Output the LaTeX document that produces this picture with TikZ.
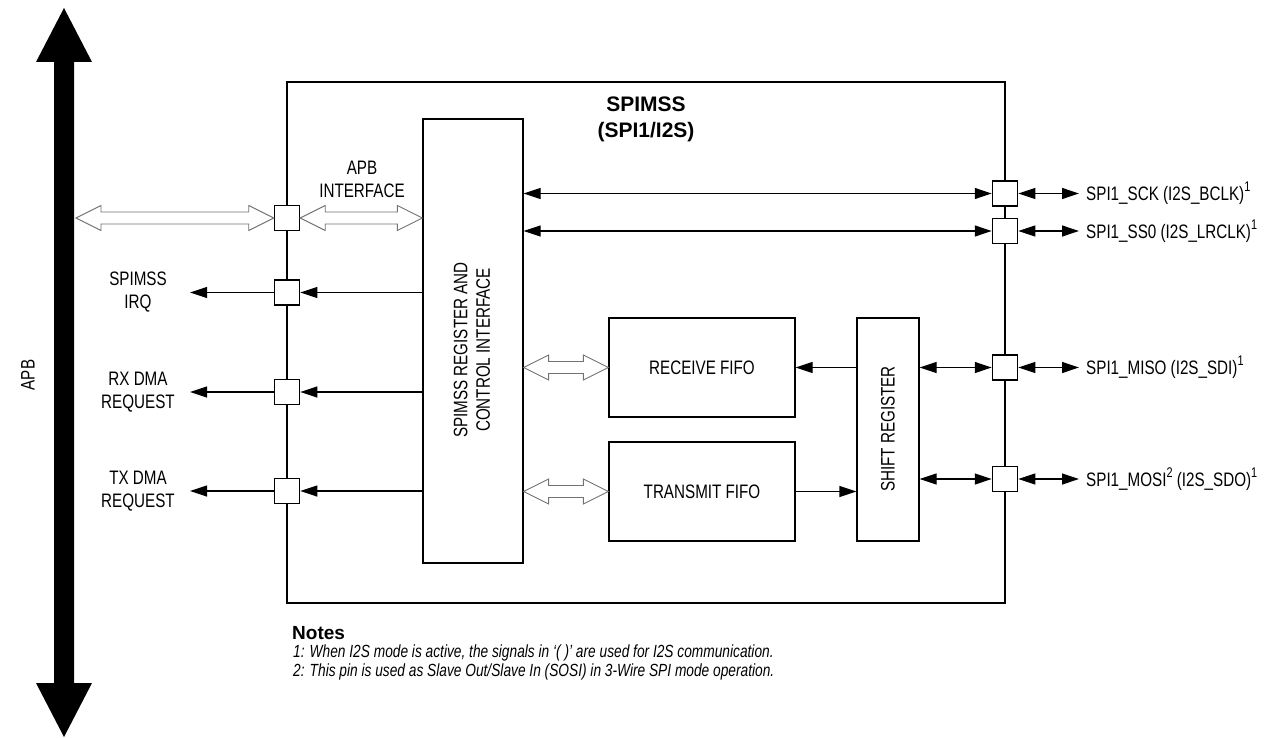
\documentclass[tikz,border=0pt]{standalone}
\usepackage{fontspec}
\setmainfont{Liberation Sans}[FakeStretch=0.78]
\newfontfamily\widefont{Liberation Sans}
\usetikzlibrary{arrows.meta,calc}

\newcommand{\supr}[1]{\raisebox{0.45em}{\fontsize{14}{14}\selectfont #1}}

\tikzset{
 lbl/.style={font=\fontsize{19.5}{22.5}\selectfont, align=center, inner sep=0pt},
 blk/.style={draw, line width=1.2pt, inner sep=0pt, font=\fontsize{19.5}{22.5}\selectfont},
 port/.style={draw, line width=1.5pt, fill=white, minimum size=25pt, inner sep=0pt},
 sig/.style={line width=1.2pt, -{Triangle[length=17pt,width=11pt]}},
 dsig/.style={line width=1.2pt, {Triangle[length=17pt,width=11pt]}-{Triangle[length=17pt,width=11pt]}},
 hollow/.style={draw=black!55, line width=0.9pt, fill=white},
 note/.style={anchor=base west, inner sep=0pt, font=\itshape\fontsize{17.6}{17.6}\selectfont},
}

\newcommand{\hollowarrow}[2]{%
 \path[hollow] let \p1=(#1), \p2=(#2) in
 (\x1,\y1) -- (\x1+25pt,\y1+12.5pt) -- (\x1+25pt,\y1+6pt) -- (\x2-25pt,\y1+6pt) -- (\x2-25pt,\y1+12.5pt) -- (\x2,\y1) -- (\x2-25pt,\y1-12.5pt) -- (\x2-25pt,\y1-6pt) -- (\x1+25pt,\y1-6pt) -- (\x1+25pt,\y1-12.5pt) -- cycle;}

\begin{document}
\begin{tikzpicture}[x=1pt,y=-1pt]
\useasboundingbox (0,0) rectangle (1271,738);

% APB bus arrow
\fill (54,62) -- (36,62) -- (64,8) -- (92,62) -- (74,62) -- (74,683) -- (92,683) -- (64,737) -- (36,683) -- (54,683) -- cycle;
\node[lbl, rotate=90] (apb) at (28,375) {APB};
\coordinate (busR) at (76,218);

% outer block
\node[draw, line width=2.2pt, minimum width=718pt, minimum height=521pt, inner sep=0pt] (outer) at (646,342.5) {};
\node[font=\widefont\bfseries\fontsize{21}{26}\selectfont, align=center, inner sep=0pt] (title) at (646,119) {SPIMSS\\(SPI1/I2S)};

% inner blocks
\node[blk, minimum width=100pt, minimum height=444pt] (reg) at (473,341) {};
\node[lbl, rotate=90] (regtxt) at (472,350) {SPIMSS REGISTER AND\\CONTROL INTERFACE};
\node[blk, minimum width=186pt, minimum height=99pt] (rx) at (702,367.5) {RECEIVE FIFO};
\node[blk, minimum width=186pt, minimum height=99pt] (tx) at (702,491.5) {TRANSMIT FIFO};
\node[blk, minimum width=62pt, minimum height=223pt] (sr) at (888,429.5) {};
\node[lbl, rotate=90] (srtxt) at (888,429) {SHIFT REGISTER};

% ports
\node[port] (pa) at (287,218) {};
\node[port] (pi) at (287,292.5) {};
\node[port] (prx) at (287,392) {};
\node[port] (ptx) at (287,491) {};
\node[port] (psck) at (1005,193.5) {};
\node[port] (pss) at (1005,231) {};
\node[port] (pmiso) at (1005,367.5) {};
\node[port] (pmosi) at (1005,479) {};

% free ends
\coordinate (irqE) at (190,292.5);
\coordinate (rxE) at (190,392);
\coordinate (txE) at (190,491);
\coordinate (sckE) at (1079,193.5);
\coordinate (ssE) at (1079,231);
\coordinate (misoE) at (1079,367.5);
\coordinate (mosiE) at (1079,479);

% hollow bus arrows
\hollowarrow{busR}{pa.west}
\hollowarrow{pa.east}{reg.west |- pa}
\hollowarrow{reg.east |- rx}{rx.west}
\hollowarrow{reg.east |- tx}{tx.west}
\node[lbl] (apbif) at (362,179.5) {APB\\INTERFACE};

% left signals
\draw[sig] (reg.west |- pi) -- (pi.east);
\draw[sig] (reg.west |- prx) -- (prx.east);
\draw[sig] (reg.west |- ptx) -- (ptx.east);
\draw[sig] (pi.west) -- (irqE);
\draw[sig] (prx.west) -- (rxE);
\draw[sig] (ptx.west) -- (txE);
\node[lbl] (irqlbl) at (138,292) {SPIMSS\\IRQ};
\node[lbl] (rxlbl) at (138,392) {RX DMA\\REQUEST};
\node[lbl] (txlbl) at (138,491) {TX DMA\\REQUEST};

% right signals
\draw[dsig] (reg.east |- psck) -- (psck.west);
\draw[dsig] (reg.east |- pss) -- (pss.west);
\draw[sig] (sr.west |- rx) -- (rx.east);
\draw[sig] (tx.east) -- (sr.west |- tx);
\draw[dsig] (sr.east |- pmiso) -- (pmiso.west);
\draw[dsig] (sr.east |- pmosi) -- (pmosi.west);
\draw[dsig] (psck.east) -- (sckE);
\draw[dsig] (pss.east) -- (ssE);
\draw[dsig] (pmiso.east) -- (misoE);
\draw[dsig] (pmosi.east) -- (mosiE);
\node[lbl, anchor=base west] (scklbl) at (1086,200.5) {SPI1\_SCK (I2S\_BCLK)\supr{1}};
\node[lbl, anchor=base west] (sslbl) at (1086,238) {SPI1\_SS0 (I2S\_LRCLK)\supr{1}};
\node[lbl, anchor=base west] (misolbl) at (1086,374.5) {SPI1\_MISO (I2S\_SDI)\supr{1}};
\node[lbl, anchor=base west] (mosilbl) at (1086,486) {SPI1\_MOSI\supr{2} (I2S\_SDO)\supr{1}};

% notes
\node[anchor=base west, inner sep=0pt, font=\widefont\bfseries\fontsize{19}{19}\selectfont] (notes) at (292,639.5) {Notes};
\node[note] (n1) at (293,657) {1: When I2S mode is active, the signals in `( )' are used for I2S communication.};
\node[note] (n2) at (293,676) {2: This pin is used as Slave Out/Slave In (SOSI) in 3-Wire SPI mode operation.};
\end{tikzpicture}
\end{document}
